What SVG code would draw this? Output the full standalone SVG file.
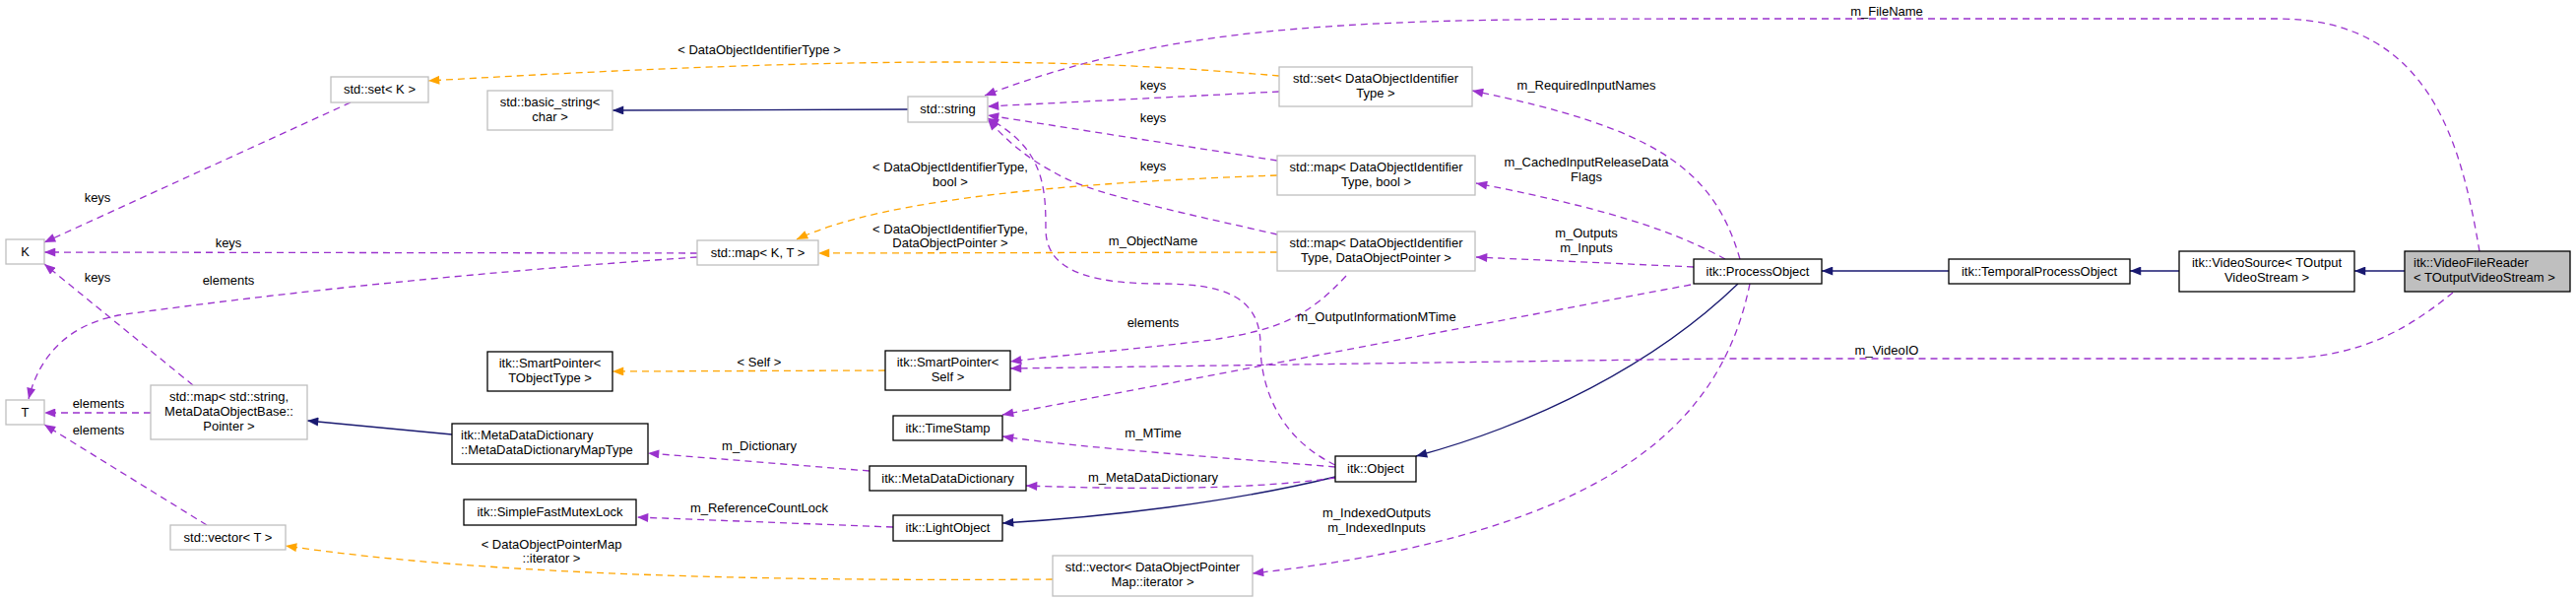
<svg xmlns="http://www.w3.org/2000/svg" width="2616" height="608" viewBox="0 0 2616 608">
<defs>
<style>
text{font-family:"Liberation Sans",Arial,sans-serif;font-size:13px;fill:#000}
.n{text-anchor:middle}
.g{fill:#fff;stroke:#bfbfbf;stroke-width:1.3}
.b{fill:#fff;stroke:#000;stroke-width:1.3}
.p{fill:none;stroke:#9a32cd;stroke-width:1.3;stroke-dasharray:7,5}
.o{fill:none;stroke:#ffa500;stroke-width:1.3;stroke-dasharray:7,5}
.v{fill:none;stroke:#191970;stroke-width:1.3}
</style>
<marker id="ap" viewBox="0 0 10 8" refX="10" refY="4" markerWidth="12" markerHeight="9" markerUnits="userSpaceOnUse" orient="auto"><path d="M0,0L10,4L0,8z" fill="#9a32cd"/></marker>
<marker id="ao" viewBox="0 0 10 8" refX="10" refY="4" markerWidth="12" markerHeight="9" markerUnits="userSpaceOnUse" orient="auto"><path d="M0,0L10,4L0,8z" fill="#ffa500"/></marker>
<marker id="av" viewBox="0 0 10 8" refX="10" refY="4" markerWidth="12" markerHeight="9" markerUnits="userSpaceOnUse" orient="auto"><path d="M0,0L10,4L0,8z" fill="#191970"/></marker>
</defs>
<rect width="2616" height="608" fill="#fff"/>
<g id="edges">
<path class="v" marker-end="url(#av)" d="M2442,275H2391"/>
<path class="v" marker-end="url(#av)" d="M2213,275H2163"/>
<path class="v" marker-end="url(#av)" d="M1979,275H1850"/>
<path class="v" marker-end="url(#av)" d="M1765,288C1680,370 1560,430 1438,463"/>
<path class="v" marker-end="url(#av)" d="M1356,484C1250,510 1120,525 1018,531"/>
<path class="v" marker-end="url(#av)" d="M459,441L312,427"/>
<path class="v" marker-end="url(#av)" d="M922,111L622,112"/>
<path class="p" marker-end="url(#ap)" d="M2518,255C2500,150 2470,19 2313,19H1750C1400,19 1200,20 1000,97"/>
<path class="p" marker-end="url(#ap)" d="M2491,297C2450,330 2400,364 2313,364H1750L1026,374"/>
<path class="p" marker-end="url(#ap)" d="M1767,263C1740,170 1680,130 1495,92"/>
<path class="p" marker-end="url(#ap)" d="M1752,263C1710,240 1650,215 1499,186"/>
<path class="p" marker-end="url(#ap)" d="M1720,271L1499,261"/>
<path class="p" marker-end="url(#ap)" d="M1717,289L1018,421"/>
<path class="p" marker-end="url(#ap)" d="M1777,288C1750,420 1650,540 1272,582"/>
<path class="p" marker-end="url(#ap)" d="M1356,472C1290,440 1280,380 1280,350C1280,300 1240,288 1180,288C1120,288 1062,280 1062,233C1062,190 1060,150 1003,120"/>
<path class="p" marker-end="url(#ap)" d="M1356,474C1250,465 1100,455 1018,443"/>
<path class="p" marker-end="url(#ap)" d="M1356,485C1250,500 1100,495 1042,493"/>
<path class="p" marker-end="url(#ap)" d="M883,478L658,460"/>
<path class="p" marker-end="url(#ap)" d="M907,535L647,525"/>
<path class="p" marker-end="url(#ap)" d="M1299,93L1003,108"/>
<path class="p" marker-end="url(#ap)" d="M1297,163L1003,117"/>
<path class="p" marker-end="url(#ap)" d="M1297,238C1220,220 1120,200 1080,180C1040,160 1020,140 1003,121"/>
<path class="p" marker-end="url(#ap)" d="M1367,280C1330,320 1300,335 1230,345C1150,355 1080,360 1026,367"/>
<path class="p" marker-end="url(#ap)" d="M356,104L45,246"/>
<path class="p" marker-end="url(#ap)" d="M708,257L45,256"/>
<path class="p" marker-end="url(#ap)" d="M708,261C500,275 300,295 120,320C70,330 40,360 29,405"/>
<path class="p" marker-end="url(#ap)" d="M196,391L45,268"/>
<path class="p" marker-end="url(#ap)" d="M153,419L45,419"/>
<path class="p" marker-end="url(#ap)" d="M210,533L45,431"/>
<path class="o" marker-end="url(#ao)" d="M1299,77C1100,60 900,55 435,82"/>
<path class="o" marker-end="url(#ao)" d="M1297,178C1100,185 900,200 809,243"/>
<path class="o" marker-end="url(#ao)" d="M1297,256L831,257"/>
<path class="o" marker-end="url(#ao)" d="M899,376L622,377"/>
<path class="o" marker-end="url(#ao)" d="M1069,588C800,590 500,585 290,554"/>
<text class="n" x="1916" y="16">m_FileName</text>
<text class="n" x="1916" y="360">m_VideoIO</text>
<text class="n" x="1611" y="91">m_RequiredInputNames</text>
<text class="n" x="1611" y="169">m_CachedInputReleaseData</text>
<text class="n" x="1611" y="184">Flags</text>
<text class="n" x="1611" y="241">m_Outputs</text>
<text class="n" x="1611" y="256">m_Inputs</text>
<text class="n" x="1398" y="326">m_OutputInformationMTime</text>
<text class="n" x="1398" y="525">m_IndexedOutputs</text>
<text class="n" x="1398" y="540">m_IndexedInputs</text>
<text class="n" x="1171" y="249">m_ObjectName</text>
<text class="n" x="1171" y="444">m_MTime</text>
<text class="n" x="1171" y="489">m_MetaDataDictionary</text>
<text class="n" x="771" y="457">m_Dictionary</text>
<text class="n" x="771" y="520">m_ReferenceCountLock</text>
<text class="n" x="1171" y="91">keys</text>
<text class="n" x="1171" y="124">keys</text>
<text class="n" x="1171" y="173">keys</text>
<text class="n" x="1171" y="332">elements</text>
<text class="n" x="99" y="205">keys</text>
<text class="n" x="232" y="251">keys</text>
<text class="n" x="232" y="289">elements</text>
<text class="n" x="99" y="286">keys</text>
<text class="n" x="100" y="414">elements</text>
<text class="n" x="100" y="441">elements</text>
<text class="n" x="771" y="55">&lt; DataObjectIdentifierType &gt;</text>
<text class="n" x="965" y="174">&lt; DataObjectIdentifierType,</text>
<text class="n" x="965" y="189">bool &gt;</text>
<text class="n" x="965" y="237">&lt; DataObjectIdentifierType,</text>
<text class="n" x="965" y="251">DataObjectPointer &gt;</text>
<text class="n" x="771" y="372">&lt; Self &gt;</text>
<text class="n" x="560" y="557">&lt; DataObjectPointerMap</text>
<text class="n" x="560" y="571">::iterator &gt;</text>
</g>
<g id="K"><rect class="g" x="6" y="243" width="39" height="25"/><text class="n" x="25.5" y="260">K</text></g>
<g id="T"><rect class="g" x="6" y="406" width="39" height="25"/><text class="n" x="25.5" y="423">T</text></g>
<g id="setK"><rect class="g" x="336" y="78" width="99" height="26"/><text class="n" x="385.5" y="95">std::set&lt; K &gt;</text></g>
<g id="basicString"><rect class="g" x="495" y="92" width="127" height="40"/><text class="n" x="558.5" y="108">std::basic_string&lt;</text><text class="n" x="558.5" y="123">char &gt;</text></g>
<g id="mapKT"><rect class="g" x="708" y="244" width="123" height="25"/><text class="n" x="769.5" y="261">std::map&lt; K, T &gt;</text></g>
<g id="spTObject"><rect class="b" x="495" y="357" width="127" height="40"/><text class="n" x="558.5" y="373">itk::SmartPointer&lt;</text><text class="n" x="558.5" y="388">TObjectType &gt;</text></g>
<g id="mapStringMDO"><rect class="g" x="153" y="391" width="159" height="55"/><text class="n" x="232.5" y="407">std::map&lt; std::string,</text><text class="n" x="232.5" y="422">MetaDataObjectBase::</text><text class="n" x="232.5" y="437">Pointer &gt;</text></g>
<g id="mapType"><rect class="b" x="459" y="430" width="199" height="41"/><text x="468" y="446">itk::MetaDataDictionary</text><text x="468" y="461">::MetaDataDictionaryMapType</text></g>
<g id="mutex"><rect class="b" x="471" y="507" width="175" height="26"/><text class="n" x="558.5" y="524">itk::SimpleFastMutexLock</text></g>
<g id="vectorT"><rect class="g" x="173" y="533" width="117" height="25"/><text class="n" x="231.5" y="550">std::vector&lt; T &gt;</text></g>
<g id="stdString"><rect class="g" x="922" y="98" width="81" height="26"/><text class="n" x="962.5" y="115">std::string</text></g>
<g id="setDOI"><rect class="g" x="1299" y="68" width="196" height="40"/><text class="n" x="1397" y="84">std::set&lt; DataObjectIdentifier</text><text class="n" x="1397" y="99">Type &gt;</text></g>
<g id="mapBool"><rect class="g" x="1297" y="158" width="201" height="40"/><text class="n" x="1397.5" y="174">std::map&lt; DataObjectIdentifier</text><text class="n" x="1397.5" y="189">Type, bool &gt;</text></g>
<g id="mapDOP"><rect class="g" x="1297" y="235" width="201" height="40"/><text class="n" x="1397.5" y="251">std::map&lt; DataObjectIdentifier</text><text class="n" x="1397.5" y="266">Type, DataObjectPointer &gt;</text></g>
<g id="spSelf"><rect class="b" x="899" y="356" width="127" height="40"/><text class="n" x="962.5" y="372">itk::SmartPointer&lt;</text><text class="n" x="962.5" y="387">Self &gt;</text></g>
<g id="timeStamp"><rect class="b" x="907" y="422" width="111" height="25"/><text class="n" x="962.5" y="439">itk::TimeStamp</text></g>
<g id="mdd"><rect class="b" x="883" y="473" width="159" height="25"/><text class="n" x="962.5" y="490">itk::MetaDataDictionary</text></g>
<g id="lightObject"><rect class="b" x="907" y="523" width="111" height="26"/><text class="n" x="962.5" y="540">itk::LightObject</text></g>
<g id="object"><rect class="b" x="1356" y="463" width="82" height="26"/><text class="n" x="1397" y="480">itk::Object</text></g>
<g id="vectorDOP"><rect class="g" x="1069" y="564" width="203" height="41"/><text class="n" x="1170.5" y="580">std::vector&lt; DataObjectPointer</text><text class="n" x="1170.5" y="595">Map::iterator &gt;</text></g>
<g id="processObject"><rect class="b" x="1720" y="263" width="130" height="25"/><text class="n" x="1785" y="280">itk::ProcessObject</text></g>
<g id="temporal"><rect class="b" x="1979" y="263" width="184" height="25"/><text class="n" x="2071" y="280">itk::TemporalProcessObject</text></g>
<g id="videoSource"><rect class="b" x="2213" y="255" width="178" height="41"/><text class="n" x="2302" y="271">itk::VideoSource&lt; TOutput</text><text class="n" x="2302" y="286">VideoStream &gt;</text></g>
<g id="videoFileReader"><rect x="2442" y="255" width="168" height="41" fill="#bfbfbf" stroke="#000" stroke-width="1.3"/><text x="2451" y="271">itk::VideoFileReader</text><text x="2451" y="286">&lt; TOutputVideoStream &gt;</text></g>
</svg>
